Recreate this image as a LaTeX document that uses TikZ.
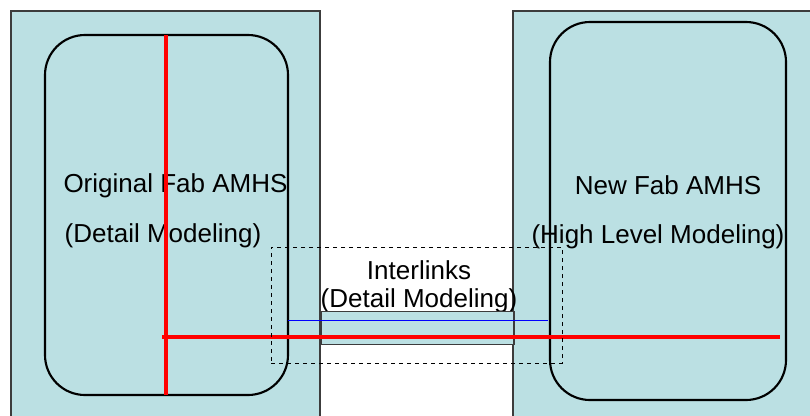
\documentclass[tikz,border=0pt]{standalone}
\usepackage{fontspec}
\setmainfont{Liberation Sans}
\definecolor{panel}{RGB}{187,224,227}
\definecolor{edge}{RGB}{60,60,60}
\tikzset{
  panelbox/.style={fill=panel,draw=edge,line width=0.8pt},
  fabbox/.style={draw=black,line width=1.6pt,rounded corners=30pt},
  lbl/.style={font=\fontsize{19.5pt}{23pt}\selectfont,inner sep=0pt,text=black},
  redline/.style={draw=red,line width=2.6pt},
}
\begin{document}
\begin{tikzpicture}[x=0.75pt,y=-0.75pt]
\useasboundingbox (0,0) rectangle (810,415);
% outer panels
\path[panelbox] (11,11) rectangle (320,418);
\path[panelbox] (513,11) rectangle (813,418);
% rounded fab boxes
\node[fabbox,minimum width=243*0.75pt,minimum height=360*0.75pt,inner sep=0pt] (origfab) at (166.5,215) {};
\node[fabbox,minimum width=236*0.75pt,minimum height=378*0.75pt,inner sep=0pt] (newfab) at (668,211) {};
% texts
\node[lbl] (t1) at (175.5,186) {Original Fab AMHS};
\node[lbl] (t2) at (163,236) {(Detail Modeling)};
\node[lbl] (t3) at (668,185) {New Fab AMHS};
\node[lbl] (t4) at (658,237) {(High Level Modeling)};
\node[lbl] (t5) at (419,270) {Interlinks};
\node[lbl] (t6) at (419,301) {(Detail Modeling)};
% interlink box
\node[fill=panel,draw=edge,line width=0.8pt,minimum width=193*0.75pt,minimum height=33*0.75pt,inner sep=0pt] (ilink) at (417.5,328) {};
% blue line
\coordinate (b1) at (288,320);
\coordinate (b2) at (548,320);
\draw[blue,line width=0.6pt] (b1) -- (b2);
% red lines
\coordinate (rv1) at (166,35);
\coordinate (rv2) at (166,395);
\coordinate (rh1) at (162,337);
\coordinate (rh2) at (780,337);
\draw[redline] (rv1) -- (rv2);
\draw[redline] (rh1) -- (rh2);
% dashed boundary
\node[draw=black,dashed,line width=0.6pt,minimum width=291*0.75pt,minimum height=116*0.75pt,inner sep=0pt] (dash) at (416.5,305) {};
\end{tikzpicture}
\end{document}
